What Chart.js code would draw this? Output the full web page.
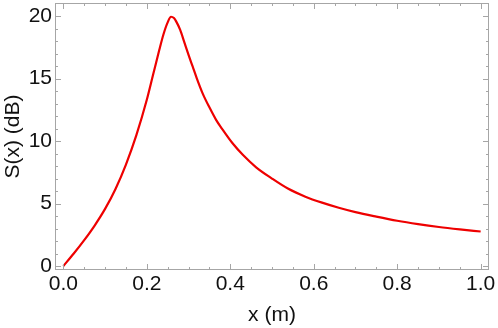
<!DOCTYPE html>
<html>
<head>
<meta charset="utf-8">
<script src="https://cdn.jsdelivr.net/npm/chart.js@4/dist/chart.umd.min.js"></script>
<style>
  html, body { margin: 0; padding: 0; background: #fff; }
  #wrap { width: 498px; height: 328px; }
</style>
</head>
<body>
<div id="wrap"><canvas id="grafico" width="498" height="328"></canvas></div>
<script>
// ======= Datos =======
const posX = [0, 0.025, 0.05, 0.075, 0.1, 0.125, 0.15, 0.175, 0.2, 0.215, 0.23, 0.24, 0.25, 0.258,
  0.265, 0.27, 0.28, 0.29, 0.3, 0.31, 0.32, 0.334, 0.35, 0.366, 0.38, 0.406, 0.43, 0.462, 0.5,
  0.538, 0.58, 0.62, 0.66, 0.7, 0.75, 0.8, 0.85, 0.9, 0.95, 1.0];
const sdB = [0, 1.0, 2.07, 3.24, 4.57, 6.17, 8.12, 10.47, 13.3, 15.3, 17.3, 18.55, 19.5, 19.95,
  19.85, 19.6, 18.9, 17.9, 16.9, 15.95, 15.0, 13.8, 12.7, 11.7, 11.0, 9.8, 8.9, 7.9, 7.0,
  6.2, 5.55, 5.07, 4.66, 4.31, 3.95, 3.62, 3.35, 3.12, 2.93, 2.76];

const xTicks = [0, 0.2, 0.4, 0.6, 0.8, 1.0];
const yTicks = [0, 5, 10, 15, 20];
const xMenor = 0.05;
const yMenor = 1;

const colorMarco = '#a6a6a6';
const fuente = { family: 'Liberation Sans, Arial, sans-serif', size: 21 };

// ======= Marco estilo Mathematica con marcas hacia dentro =======
const marcoPlugin = {
  id: 'marco',
  afterDatasetsDraw(chart) {
    const { ctx, chartArea: a, scales } = chart;
    const sx = scales.x, sy = scales.y;
    ctx.save();
    ctx.strokeStyle = colorMarco;
    ctx.lineWidth = 1;
    ctx.strokeRect(a.left + 0.5, a.top + 0.5, a.right - a.left - 1, a.bottom - a.top - 1);

    ctx.beginPath();
    for (let v = 0; v <= 1.0001; v += xMenor) {
      const mayor = xTicks.some(t => Math.abs(t - v) < 1e-6);
      const len = mayor ? 6 : 3;
      const px = Math.round(sx.getPixelForValue(v)) + 0.5;
      ctx.moveTo(px, a.bottom); ctx.lineTo(px, a.bottom - len);
      ctx.moveTo(px, a.top); ctx.lineTo(px, a.top + len);
    }
    for (let v = 0; v <= 20.0001; v += yMenor) {
      const mayor = yTicks.some(t => Math.abs(t - v) < 1e-6);
      const len = mayor ? 6 : 3;
      const py = Math.round(sy.getPixelForValue(v)) + 0.5;
      ctx.moveTo(a.left, py); ctx.lineTo(a.left + len, py);
      ctx.moveTo(a.right, py); ctx.lineTo(a.right - len, py);
    }
    ctx.stroke();
    ctx.restore();
  }
};

const ctx = document.getElementById('grafico').getContext('2d');
const chart = new Chart(ctx, {
  type: 'scatter',
  data: {
    datasets: [{
      data: posX.map((x, i) => ({ x: x, y: sdB[i] })),
      showLine: true,
      borderColor: '#ee0000',
      borderWidth: 2.2,
      pointRadius: 0,
      cubicInterpolationMode: 'monotone',
      fill: false
    }]
  },
  options: {
    responsive: false,
    animation: false,
    layout: { padding: { top: 3, right: 9, left: 0, bottom: 0 } },
    plugins: { legend: { display: false }, tooltip: { enabled: false } },
    scales: {
      x: {
        type: 'linear',
        min: -0.02,
        max: 1.02,
        afterBuildTicks: s => { s.ticks = xTicks.map(v => ({ value: v })); },
        afterFit: s => { s.height = 58; s.paddingLeft = 0; s.paddingRight = 0; },
        grid: { display: false, drawTicks: false },
        border: { display: false },
        ticks: {
          color: '#111',
          font: fuente,
          padding: 2,
          maxRotation: 0,
          callback: v => Number(v).toFixed(1)
        },
        title: {
          display: true,
          text: 'x (m)',
          color: '#111',
          font: fuente,
          padding: { top: 0, bottom: 0 }
        }
      },
      y: {
        type: 'linear',
        min: -0.32,
        max: 21.05,
        afterBuildTicks: s => { s.ticks = yTicks.map(v => ({ value: v })); },
        afterFit: s => { s.width = 55; s.paddingTop = 0; s.paddingBottom = 0; },
        grid: { display: false, drawTicks: false },
        border: { display: false },
        ticks: {
          color: '#111',
          font: fuente,
          padding: 3,
          callback: v => String(v)
        },
        title: {
          display: true,
          text: 'S(x) (dB)',
          color: '#111',
          font: fuente,
          padding: { top: 1, bottom: 0 }
        }
      }
    }
  },
  plugins: [marcoPlugin]
});
</script>
</body>
</html>
